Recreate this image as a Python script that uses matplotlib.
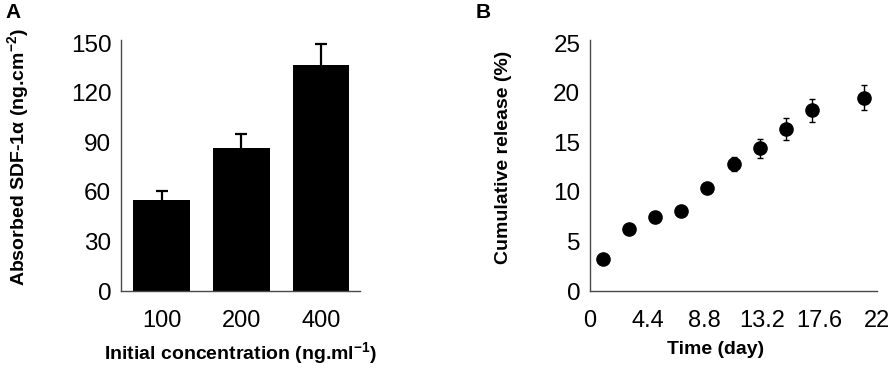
import matplotlib
matplotlib.use("Agg")
import matplotlib.pyplot as plt
import numpy as np

plt.rcParams['font.family'] = ['Liberation Sans', 'DejaVu Sans']
plt.rcParams['mathtext.fontset'] = 'custom'
plt.rcParams['mathtext.rm'] = 'Liberation Sans'
plt.rcParams['mathtext.bf'] = 'Liberation Sans:bold'

# Panel A data
conc_labels = ["100", "200", "400"]
absorbed = [55, 86.5, 136.5]
absorbed_err = [5.5, 8.5, 13]

# Panel B data
days = [1, 3, 5, 7, 9, 11, 13, 15, 17, 21]
release = [3.2, 6.3, 7.5, 8.1, 10.4, 12.8, 14.4, 16.3, 18.2, 19.5]
release_err = [0.15, 0.2, 0.2, 0.2, 0.3, 0.75, 0.95, 1.1, 1.2, 1.25]

W, H = 891, 368
fig = plt.figure(figsize=(W / 100, H / 100), dpi=100)

spine_col = "#4a4a4a"
xtick_fs = 17
ytick_fs = 17.5
lab_fs = 14

def style(ax):
    for s in ["top", "right"]:
        ax.spines[s].set_visible(False)
    for s in ["left", "bottom"]:
        ax.spines[s].set_color(spine_col)
        ax.spines[s].set_linewidth(1.0)
    ax.tick_params(axis="x", length=0, labelsize=xtick_fs, pad=14)
    ax.tick_params(axis="y", length=0, labelsize=ytick_fs, pad=7)

# Panel A
axA = fig.add_axes([121 / W, 1 - 291 / H, (360 - 121) / W, (291 - 40) / H])
x = np.arange(len(absorbed))
axA.bar(x, absorbed, width=0.71, color="black", zorder=2)
eb = axA.errorbar(x, absorbed, yerr=[np.zeros(len(absorbed)), absorbed_err],
                  fmt="none", ecolor="black", elinewidth=1.6, capsize=4.5, capthick=1.6,
                  zorder=1)
eb[1][0].set_visible(False)
axA.set_xlim(-0.51, 2.49)
axA.set_ylim(0, 150 * 251 / 248)
axA.set_yticks([0, 30, 60, 90, 120, 150])
axA.set_xticks(x)
axA.set_xticklabels(conc_labels)
style(axA)
axA.set_xlabel("Initial concentration (ng.ml$^{\\mathbf{-1}}$)", fontsize=lab_fs,
               fontweight="bold")
axA.set_ylabel("Absorbed SDF-1α (ng.cm$^{\\mathbf{-2}}$)", fontsize=lab_fs,
               fontweight="bold")
axA.xaxis.set_label_coords((240 - 121) / 239, (291 - 340) / 251)
axA.yaxis.set_label_coords((32 - 121) / 239, (291 - 157) / 251)

# Panel B
axB = fig.add_axes([590 / W, 1 - 291 / H, (877 - 590) / W, (291 - 40) / H])
axB.errorbar(days, release, yerr=release_err, fmt="o", color="black", markersize=9.5,
             ecolor="black", elinewidth=1.0, capsize=2.5, capthick=1.0)
axB.set_xlim(0, 22)
axB.set_ylim(0, 25 * 251 / 248)
axB.set_xticks([0, 4.4, 8.8, 13.2, 17.6, 22])
axB.set_xticklabels(["0", "4.4", "8.8", "13.2", "17.6", "22"])
axB.set_yticks([0, 5, 10, 15, 20, 25])
style(axB)
axB.set_xlabel("Time (day)", fontsize=lab_fs, fontweight="bold")
axB.set_ylabel("Cumulative release (%)", fontsize=lab_fs, fontweight="bold")
axB.xaxis.set_label_coords((716 - 590) / 287, (291 - 341) / 251)
axB.yaxis.set_label_coords((512 - 590) / 287, (291 - 157) / 251)

fig.text(5 / W, 1 - 3 / H, "A", fontsize=15, fontweight="bold", va="top", ha="left")
fig.text(476 / W, 1 - 3 / H, "B", fontsize=15, fontweight="bold", va="top", ha="left")

fig.savefig("out.png", dpi=100)
